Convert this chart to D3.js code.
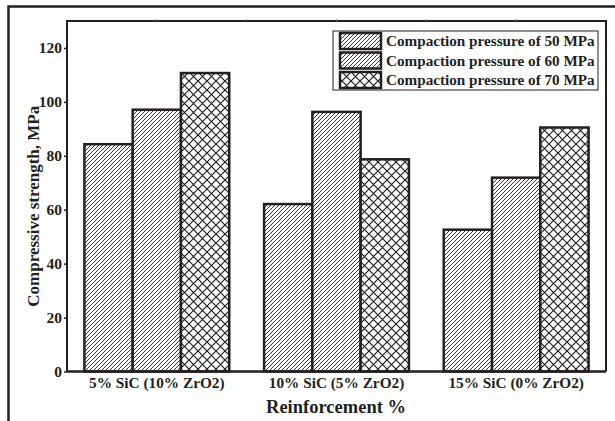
<!DOCTYPE html>
<html><head><meta charset="utf-8">
<script src="https://cdn.jsdelivr.net/npm/d3@7/dist/d3.min.js"></script>
<style>body{margin:0;background:#fff}svg{display:block}</style>
</head><body>
<svg id="c" width="615" height="421"></svg>
<script>
const categories = ["5% SiC (10% ZrO2)", "10% SiC (5% ZrO2)", "15% SiC (0% ZrO2)"];
const seriesNames = ["Compaction pressure of 50 MPa", "Compaction pressure of 60 MPa", "Compaction pressure of 70 MPa"];
const p50 = [84.3, 62.1, 52.6];
const p60 = [97.1, 96.3, 71.9];
const p70 = [110.7, 78.7, 90.5];
const yTicks = [0, 20, 40, 60, 80, 100, 120];
const series = [p50, p60, p70];

const svg = d3.select("#c");
const font = "'Liberation Serif', 'Times New Roman', serif";
const ink = "#231f20";
const m = {l: 67, t: 21, r: 606, b: 371.5};

const defs = svg.append("defs");
function hatch(id, step, sw) {
  const p = defs.append("pattern").attr("id", id).attr("patternUnits", "userSpaceOnUse")
    .attr("width", step).attr("height", step);
  p.append("rect").attr("width", step).attr("height", step).attr("fill", "#fff");
  p.append("path").attr("d", `M0,${step} L${step},0 M${-step/2},${step/2} L${step/2},${-step/2} M${step/2},${step*1.5} L${step*1.5},${step/2}`)
    .attr("stroke", ink).attr("stroke-width", sw);
}
hatch("h1", 4, 0.9);
hatch("h2", 4, 0.9);
(function(){
  const s = 9;
  const p = defs.append("pattern").attr("id", "h3").attr("patternUnits", "userSpaceOnUse").attr("width", s).attr("height", s);
  p.append("rect").attr("width", s).attr("height", s).attr("fill", "#fff");
  p.append("path").attr("d", `M0,0 L${s},${s} M0,${s} L${s},0`).attr("stroke", ink).attr("stroke-width", 1.2);
})();
const fills = ["url(#h1)", "url(#h2)", "url(#h3)"];

// outer border
svg.append("path").attr("d", "M8.5,421 L8.5,6.5 L615,6.5").attr("fill", "none").attr("stroke", ink).attr("stroke-width", 2.5);

const x0 = d3.scaleBand().domain(categories).range([m.l, m.r]).padding(0);
const bw = x0.bandwidth();
const x1 = d3.scaleBand().domain([0, 1, 2]).range([bw * 0.097, bw * 0.903]).padding(0);
const y = d3.scaleLinear().domain([0, 130]).range([m.b, m.t]);

// bars
const g = svg.append("g");
categories.forEach((c, i) => {
  series.forEach((s, j) => {
    g.append("rect")
      .attr("x", x0(c) + x1(j)).attr("width", x1.bandwidth())
      .attr("y", y(s[i])).attr("height", y(0) - y(s[i]))
      .attr("fill", fills[j]).attr("stroke", ink).attr("stroke-width", 2.5);
  });
});

// frame
svg.append("path").attr("d", `M${m.l},${m.b} L${m.l},${m.t} L${m.r},${m.t} L${m.r},${m.b}`)
  .attr("fill", "none").attr("stroke", ink).attr("stroke-width", 2);
svg.append("line").attr("x1", m.l).attr("x2", m.r).attr("y1", m.b).attr("y2", m.b).attr("stroke", ink).attr("stroke-width", 2.5);

// y axis
const ya = svg.append("g").attr("transform", `translate(${m.l},0)`)
  .call(d3.axisLeft(y).tickValues(yTicks).tickSize(3).tickPadding(2));
ya.select(".domain").remove();
ya.selectAll("line").attr("stroke", ink).attr("stroke-width", 1.5);
ya.selectAll("text").attr("font-family", font).attr("font-weight", "bold").attr("font-size", 15.5).attr("fill", ink);

// x axis labels
const xa = svg.append("g").attr("transform", `translate(0,${m.b})`)
  .call(d3.axisBottom(x0).tickSize(0).tickPadding(6));
xa.select(".domain").remove();
xa.selectAll("text").attr("font-family", font).attr("font-weight", "bold").attr("font-size", 15.3).attr("fill", ink);

// top minor ticks
const topTicks = [];
categories.forEach(c => { topTicks.push(x0(c) + bw / 2); });
topTicks.push(x0(categories[1]), x0(categories[2]));
svg.selectAll(".tt").data(topTicks).join("line").attr("x1", d => d).attr("x2", d => d)
  .attr("y1", m.t).attr("y2", m.t - 2).attr("stroke", "#888").attr("stroke-width", 1);

// axis titles
svg.append("text").attr("x", 336).attr("y", 413).attr("text-anchor", "middle")
  .attr("font-family", font).attr("font-weight", "bold").attr("font-size", 18.5).attr("fill", ink).text("Reinforcement %");
svg.append("text").attr("transform", `translate(38.5,${(m.t + m.b) / 2 + 10}) rotate(-90)`).attr("text-anchor", "middle")
  .attr("font-family", font).attr("font-weight", "bold").attr("font-size", 17).attr("fill", ink).text("Compressive strength, MPa");

// legend
const lg = svg.append("g");
lg.append("rect").attr("x", 333).attr("y", 31).attr("width", 265).attr("height", 59)
  .attr("fill", "#fff").attr("stroke", ink).attr("stroke-width", 1);
seriesNames.forEach((n, j) => {
  const yy = 33 + j * 19.5;
  lg.append("rect").attr("x", 340).attr("y", yy).attr("width", 41).attr("height", 16)
    .attr("fill", fills[j]).attr("stroke", ink).attr("stroke-width", 2.5);
  lg.append("text").attr("x", 386).attr("y", yy + 13).attr("font-family", font).attr("font-weight", "bold")
    .attr("font-size", 15.2).attr("fill", ink).text(n);
});
</script>
</body></html>
